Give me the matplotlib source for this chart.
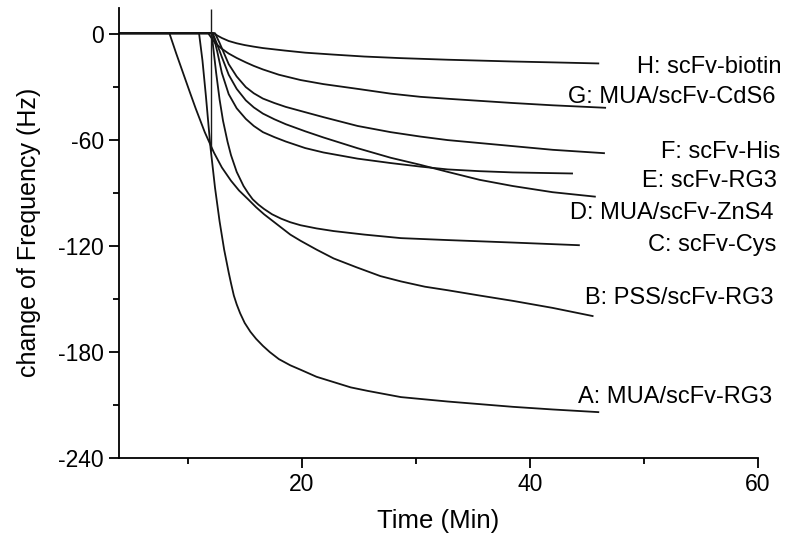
import matplotlib
matplotlib.use("Agg")
import matplotlib.pyplot as plt
from matplotlib.ticker import MultipleLocator

plt.rcParams['font.family'] = ['Liberation Sans', 'DejaVu Sans']
plt.rcParams['axes.unicode_minus'] = False

# curves: time (min), change of frequency (Hz)
t_A = [4, 11.0, 11.3, 11.6, 12.0, 12.4, 12.8, 13.2, 13.6, 13.8, 14.05, 14.3, 14.6, 15.0, 15.5,
       16.0, 16.6, 17.2, 18.0, 19.0, 19.9, 21.3, 22.8, 24.3, 25.8, 28.7, 32.8, 38.5, 42, 46]
f_A = [0.5, 0.5, -15, -35, -64, -87, -106, -122, -135, -141, -148, -153, -158, -163.5, -168.5,
       -172.5, -176.5, -180, -184, -187.5, -190, -194, -197, -200, -202, -205.5, -208, -211,
       -212.5, -214]

t_B = [4, 8.4, 9.0, 9.6, 10.2, 10.7, 11.5, 12.3, 13.0, 13.8, 14.5, 15.3, 16.0, 16.7, 17.5, 18.2,
       19.0, 19.9, 21.3, 22.8, 24.8, 26.9, 28.7, 30.8, 32.8, 35.6, 38.5, 42, 45.5]
f_B = [0.5, 0.5, -11, -22, -33, -42, -55.5, -67, -75.5, -83, -88.5, -93.5, -98, -102, -106, -109.5,
       -113.5, -117, -122, -127, -132, -137, -140, -143, -145, -148, -151, -155, -159.6]

t_C = [4, 12.1, 12.5, 12.8, 13.1, 13.5, 13.8, 14.3, 14.9, 15.3, 15.7, 16.2, 16.7, 17.4, 18.2,
       19.0, 19.9, 21.3, 22.8, 25.5, 28.7, 32.8, 38.5, 44.3]
f_C = [0.5, 0.5, -22, -37, -49, -61, -68.5, -78, -86, -90, -93.5, -96.5, -99, -102, -104.5,
       -106.5, -108.2, -110, -111.5, -113.5, -115.5, -116.6, -118, -119.5]

t_D = [4, 12.2, 12.6, 13.0, 13.6, 14.3, 15.1, 15.8, 16.6, 17.6, 18.6, 20.3, 21.9, 24.9, 27.8,
       30.4, 32.8, 35.6, 38.5, 42, 45.7]
f_D = [0.5, 0.5, -6, -13, -23, -31, -37.5, -41.5, -45, -48.2, -51, -55, -58.5, -64.6, -70,
       -74, -78, -82.5, -86, -89.5, -92]

t_E = [4, 12.2, 12.6, 13.0, 13.6, 14.3, 15.1, 15.8, 16.6, 17.6, 18.6, 20.3, 21.9, 24.9, 27.8,
       30.4, 32.8, 35.6, 38.5, 43.7]
f_E = [0.5, 0.5, -10, -22, -34, -42, -48, -52, -55.5, -58.3, -60.8, -64.5, -67, -70.5, -73,
       -75, -76.6, -77.6, -78.3, -78.9]

t_F = [4, 12.4, 12.8, 13.2, 13.6, 14.3, 15.1, 15.8, 16.6, 17.6, 18.6, 20.3, 21.9, 24.9, 27.8,
       30.4, 32.8, 38.5, 42, 46.5]
f_F = [0.5, 0.5, -5, -11, -17, -24, -30, -33.5, -36.5, -39, -41.2, -44.2, -47, -52, -55.5,
       -58, -60, -63.4, -65.5, -67.4]

t_G = [4, 11.8, 12.4, 13.0, 13.6, 14.3, 15.1, 15.8, 16.6, 18.0, 19.9, 21.9, 24.9, 27.8, 30.4,
       32.8, 38.5, 42, 46.6]
f_G = [0.5, 0.5, -5, -8.3, -11, -13.5, -16, -18, -20, -23, -26, -28.3, -31, -33.7, -35.5,
       -36.6, -39, -40.3, -41.7]

t_H = [4, 12.3, 12.6, 13.0, 13.6, 14.3, 15.0, 15.8, 16.6, 18.5, 20.3, 22.8, 25.5, 28.7, 32.8,
       38.5, 42, 46]
f_H = [0.5, 0.5, -0.8, -2.2, -3.9, -5.2, -6.2, -7.1, -7.9, -9.3, -10.5, -11.6, -12.7, -13.6,
       -14.5, -15.5, -16, -16.6]

# injection marker
marker_t = 12.04
marker_top = 14.3
marker_bottom = -66

labels = ['A: MUA/scFv-RG3', 'B: PSS/scFv-RG3', 'C: scFv-Cys', 'D: MUA/scFv-ZnS4',
          'E: scFv-RG3', 'F: scFv-His', 'G: MUA/scFv-CdS6', 'H: scFv-biotin']
label_t = [44.2, 44.8, 50.4, 43.5, 49.8, 51.5, 43.35, 49.4]
label_f = [-205.4, -149.4, -119.4, -101.3, -83.2, -66.8, -35.7, -18.7]

curves = [(t_A, f_A), (t_B, f_B), (t_C, f_C), (t_D, f_D),
          (t_E, f_E), (t_F, f_F), (t_G, f_G), (t_H, f_H)]

fig = plt.figure(figsize=(8, 5.44), dpi=100)
ax = fig.add_axes([0.149, 0.158, 0.7985, 0.828])

for t, f in curves:
    ax.plot(t, f, '-', color='#141414', linewidth=1.3, solid_joinstyle='round')

ax.vlines(marker_t, marker_bottom, marker_top, color='#1a1a1a', linewidth=1.0)

for txt, tx, fy in zip(labels, label_t, label_f):
    ax.text(tx, fy, txt, fontsize=17, ha='left', va='center', clip_on=False)

ax.set_xlim(4, 60)
ax.set_ylim(-240, 15)
ax.xaxis.set_major_locator(MultipleLocator(20))
ax.xaxis.set_minor_locator(MultipleLocator(10))
ax.yaxis.set_major_locator(MultipleLocator(60))
ax.yaxis.set_minor_locator(MultipleLocator(30))

for s in ['top', 'right']:
    ax.spines[s].set_visible(False)
for s in ['left', 'bottom']:
    ax.spines[s].set_linewidth(1.3)

ax.tick_params(which='major', direction='out', length=7, width=1.3, labelsize=16.5, pad=4)
ax.tick_params(which='minor', direction='out', length=4, width=1.3)

ax.set_xlabel('Time (Min)', fontsize=18.5, labelpad=9)
ax.set_ylabel('change of Frequency (Hz)', fontsize=18, labelpad=12)

plt.savefig('out.png', dpi=100)
